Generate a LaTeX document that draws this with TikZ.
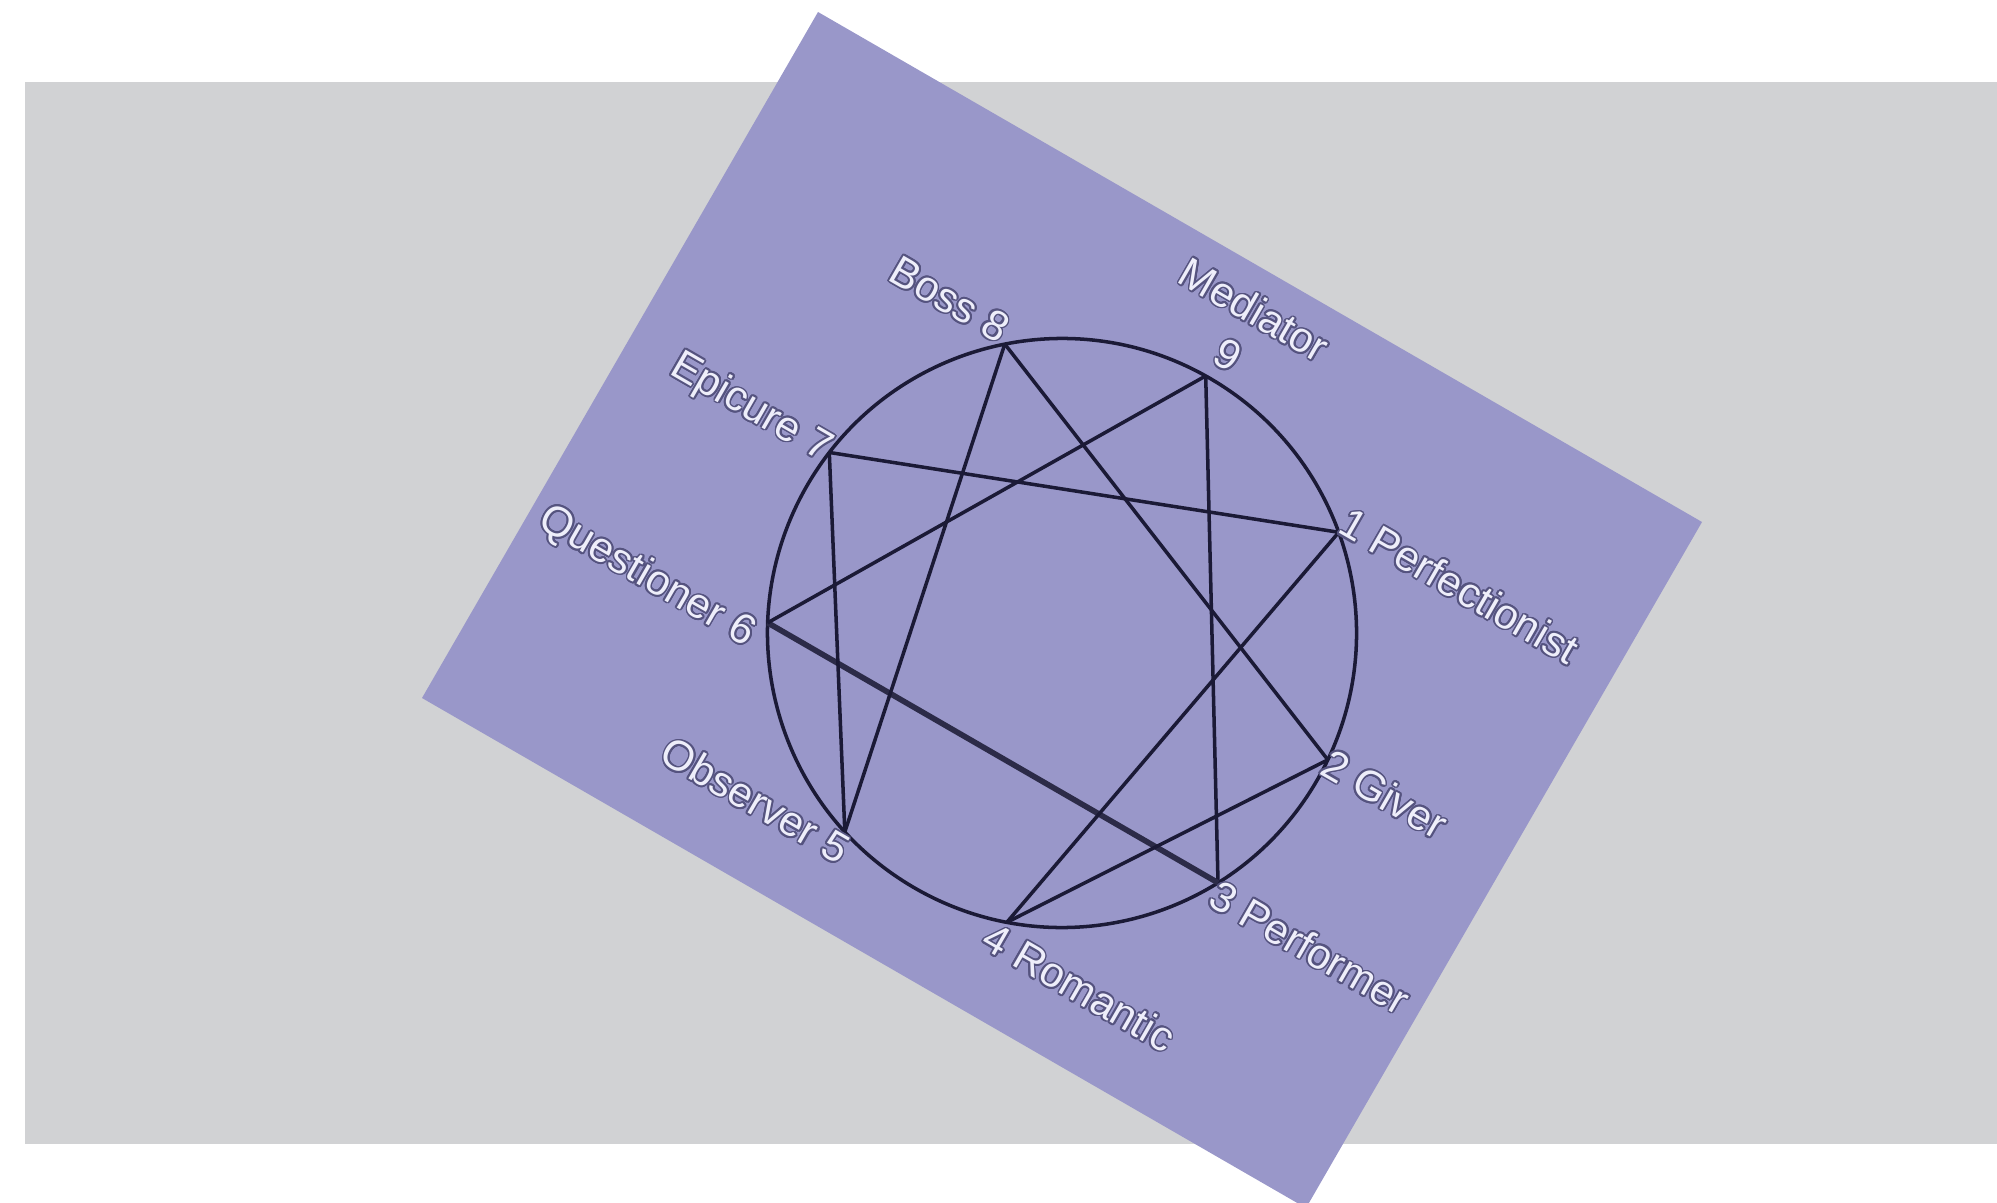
\documentclass[tikz,border=0pt]{standalone}
\usepackage{fontspec}
\setmainfont{Liberation Sans}
\usepackage{contour}
\contourlength{0.5pt}
\definecolor{graybg}{HTML}{D1D2D4}
\definecolor{purp}{HTML}{9997C9}
\definecolor{linecol}{HTML}{1B1A36}
\definecolor{thickcol}{HTML}{2C2B48}
\definecolor{txtcol}{HTML}{EEEEFA}
\definecolor{shadcol}{HTML}{55537F}
\newcommand{\emb}[1]{\contour{shadcol}{#1}}
\begin{document}
\begin{tikzpicture}[x=0.01cm,y=0.01cm,
  edge/.style={draw=linecol, line width=1pt},
  thickedge/.style={draw=thickcol, line width=1.6pt},
  lbl/.style={font=\fontsize{12}{14.8}\selectfont, text=txtcol, inner sep=0pt}]
\useasboundingbox (0,0) rectangle (1997,1202);
\fill[graybg] (25,58) rectangle (1997,1120);
\begin{scope}
  \clip (0,0) rectangle (1997,1202);
  \fill[purp] (818,1190) -- (1702,680) -- (1306,-6) -- (422,504) -- cycle;
\end{scope}
\begin{scope}[shift={(1062,569)}, rotate=-30, transform shape]
  \coordinate (c) at (0,0);
  \coordinate (v1) at (189.3,225.6);
  \coordinate (v2) at (293.6,23.1);
  \coordinate (v3) at (260.0,-138.3);
  \coordinate (v4) at (96.9,-278.1);
  \coordinate (v5) at (-88.6,-280.9);
  \coordinate (v6) at (-260.0,-138.3);
  \coordinate (v7) at (-291.8,40.0);
  \coordinate (v8) at (-194.0,221.6);
  \coordinate (v9) at (-4.1,294.5);
  \draw[edge] (c) circle (294.5);
  % triangle
  \draw[edge] (v9) -- (v3);
  \draw[thickedge] (v3) -- (v6);
  \draw[edge] (v6) -- (v9);
  % hexad
  \draw[edge] (v1) -- (v4);
  \draw[edge] (v4) -- (v2);
  \draw[edge] (v2) -- (v8);
  \draw[edge] (v8) -- (v5);
  \draw[edge] (v5) -- (v7);
  \draw[edge] (v7) -- (v1);
  % labels
  \node[lbl, anchor=base east] (l8) at (-199,218.6) {\emb{Boss 8}};
  \node[lbl, anchor=south, align=center] (l9) at (5,306.5) {\emb{Mediator}\\\emb{9}};
  \node[lbl, anchor=base east] (l7) at (-291.8,28) {\emb{Epicure 7}};
  \node[lbl, anchor=base east] (l6) at (-266,-170.3) {\emb{Questioner 6}};
  \node[lbl, anchor=base east] (l5) at (-76.6,-312.9) {\emb{Observer 5}};
  \node[lbl, anchor=base west] (l4) at (84.9,-313.1) {\emb{4 Romantic}};
  \node[lbl, anchor=base west] (l3) at (260,-163.3) {\emb{3 Performer}};
  \node[lbl, anchor=base west] (l2) at (291.6,7.1) {\emb{2 Giver}};
  \node[lbl, anchor=base west] (l1) at (186.3,224.6) {\emb{1 Perfectionist}};
\end{scope}
\end{tikzpicture}
\end{document}
